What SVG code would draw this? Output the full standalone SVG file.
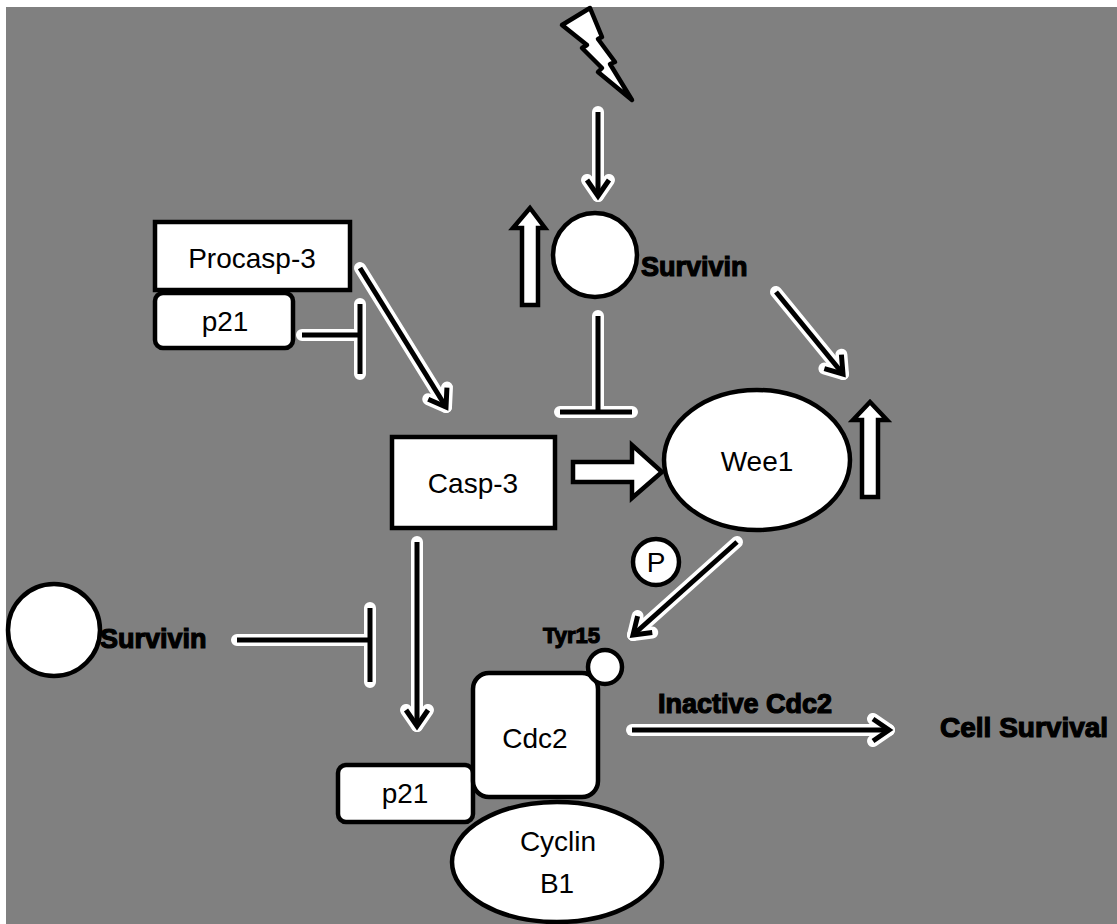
<svg xmlns="http://www.w3.org/2000/svg" width="1117" height="924" viewBox="0 0 1117 924">
<style>
.node{fill:#fff;stroke:#000;stroke-width:4.5}
.lbl{font-family:"Liberation Sans",Arial,sans-serif;font-size:28px;fill:#000;text-anchor:middle}
.bold{font-family:"Liberation Sans",Arial,sans-serif;font-weight:bold;fill:#000;stroke:#000;stroke-width:1.2}
.halo{fill:none;stroke:#fff;stroke-width:12;stroke-linecap:round;stroke-linejoin:round}
.ln{fill:none;stroke:#000;stroke-width:5;stroke-linecap:butt}
.ha{marker-end:url(#ahW)}
.la{marker-end:url(#ahB)}
</style>
<defs>
<marker id="ahW" markerUnits="userSpaceOnUse" orient="auto" refX="0" refY="0" markerWidth="40" markerHeight="40" viewBox="-25 -20 40 40" overflow="visible">
<path d="M-16,-11 L0,0 L-16,11" fill="none" stroke="#fff" stroke-width="12" stroke-linecap="round" stroke-linejoin="round"/>
</marker>
<marker id="ahB" markerUnits="userSpaceOnUse" orient="auto" refX="0" refY="0" markerWidth="40" markerHeight="40" viewBox="-25 -20 40 40" overflow="visible">
<path d="M-16,-11 L0,0 L-16,11" fill="none" stroke="#000" stroke-width="5" stroke-linejoin="miter"/>
</marker>
</defs>
<rect x="0" y="0" width="1117" height="924" fill="#fff"/>
<rect x="6" y="7" width="1111" height="917" fill="#808080"/>

<g id="connectors">
<path class="halo ha" d="M598,112 L598,196"/>
<path class="ln la" d="M598,112 L598,196"/>
<path class="halo ha" d="M776,292 L843,374"/>
<path class="ln la" d="M776,292 L843,374"/>
<path class="halo ha" d="M360,268 L446,407"/>
<path class="ln la" d="M360,268 L446,407"/>
<path class="halo ha" d="M737,542 L633,635"/>
<path class="ln la" d="M737,542 L633,635"/>
<path class="halo ha" d="M417,542 L417,726"/>
<path class="ln la" d="M417,542 L417,726"/>
<path class="halo ha" d="M632,730 L889,730"/>
<path class="ln la" d="M632,730 L889,730"/>
<path class="halo" d="M598,316 L598,412 M560,412 L632,412"/>
<path class="ln" d="M598,316 L598,412 M560,412 L632,412"/>
<path class="halo" d="M302,335 L360,335 M360,304 L360,374"/>
<path class="ln" d="M302,335 L360,335 M360,304 L360,374"/>
<path class="halo" d="M237,640 L370,640 M370,608 L370,682"/>
<path class="ln" d="M237,640 L370,640 M370,608 L370,682"/>
<polygon class="node" points="573,462 632,462 632,445 662,472 632,498 632,482 573,482"/>
</g>

<g id="bolt">
<polygon class="node" stroke-linejoin="round" points="562,25 590,8 602,37 598,39 615,62 610,64 632,100 598,72 602,68 582,48 587,45"/>
</g>

<g id="survivin-top">
<circle class="node" cx="595" cy="255" r="42"/>
<text class="bold" x="641" y="276" font-size="27">Survivin</text>
</g>
<g id="up-survivin">
<polygon class="node" points="530,208 513,228 522,228 522,305 538,305 538,228 545,228"/>
</g>

<g id="procasp3">
<rect class="node" x="155" y="222" width="195" height="68"/>
<text class="lbl" x="252" y="268">Procasp-3</text>
</g>
<g id="p21-top">
<rect class="node" x="155" y="293" width="138" height="55" rx="8"/>
<text class="lbl" x="225" y="331">p21</text>
</g>

<g id="casp3">
<rect class="node" x="392" y="437" width="163" height="91"/>
<text class="lbl" x="473" y="493">Casp-3</text>
</g>

<g id="wee1">
<ellipse class="node" cx="757" cy="460" rx="93" ry="70"/>
<text class="lbl" x="757" y="471">Wee1</text>
</g>
<g id="up-wee1">
<polygon class="node" points="870,402 853,420 862,420 862,497 878,497 878,420 887,420"/>
</g>

<g id="phospho">
<circle class="node" cx="656" cy="562" r="23"/>
<text class="lbl" x="656" y="572" font-size="26">P</text>
</g>

<g id="survivin-left">
<circle class="node" cx="54" cy="630" r="46"/>
<text class="bold" x="100" y="648" font-size="27">Survivin</text>
</g>

<g id="p21-bottom">
<rect class="node" x="338" y="765" width="135" height="57" rx="8"/>
<text class="lbl" x="405" y="803">p21</text>
</g>

<g id="cdc2">
<rect class="node" x="473" y="673" width="125" height="124" rx="16"/>
<text class="lbl" x="535" y="748">Cdc2</text>
</g>

<g id="cyclinb1">
<ellipse class="node" cx="557" cy="862" rx="105" ry="60"/>
<text class="lbl" x="558" y="851">Cyclin</text>
<text class="lbl" x="557" y="893">B1</text>
</g>

<g id="tyr15">
<circle class="node" cx="605" cy="667" r="17"/>
<text class="bold" x="543" y="643" font-size="22">Tyr15</text>
</g>

<g id="inactive-cdc2">
<text class="bold" x="658" y="713" font-size="27">Inactive Cdc2</text>
</g>
<g id="cell-survival">
<text class="bold" x="940" y="737" font-size="28">Cell Survival</text>
</g>
</svg>
